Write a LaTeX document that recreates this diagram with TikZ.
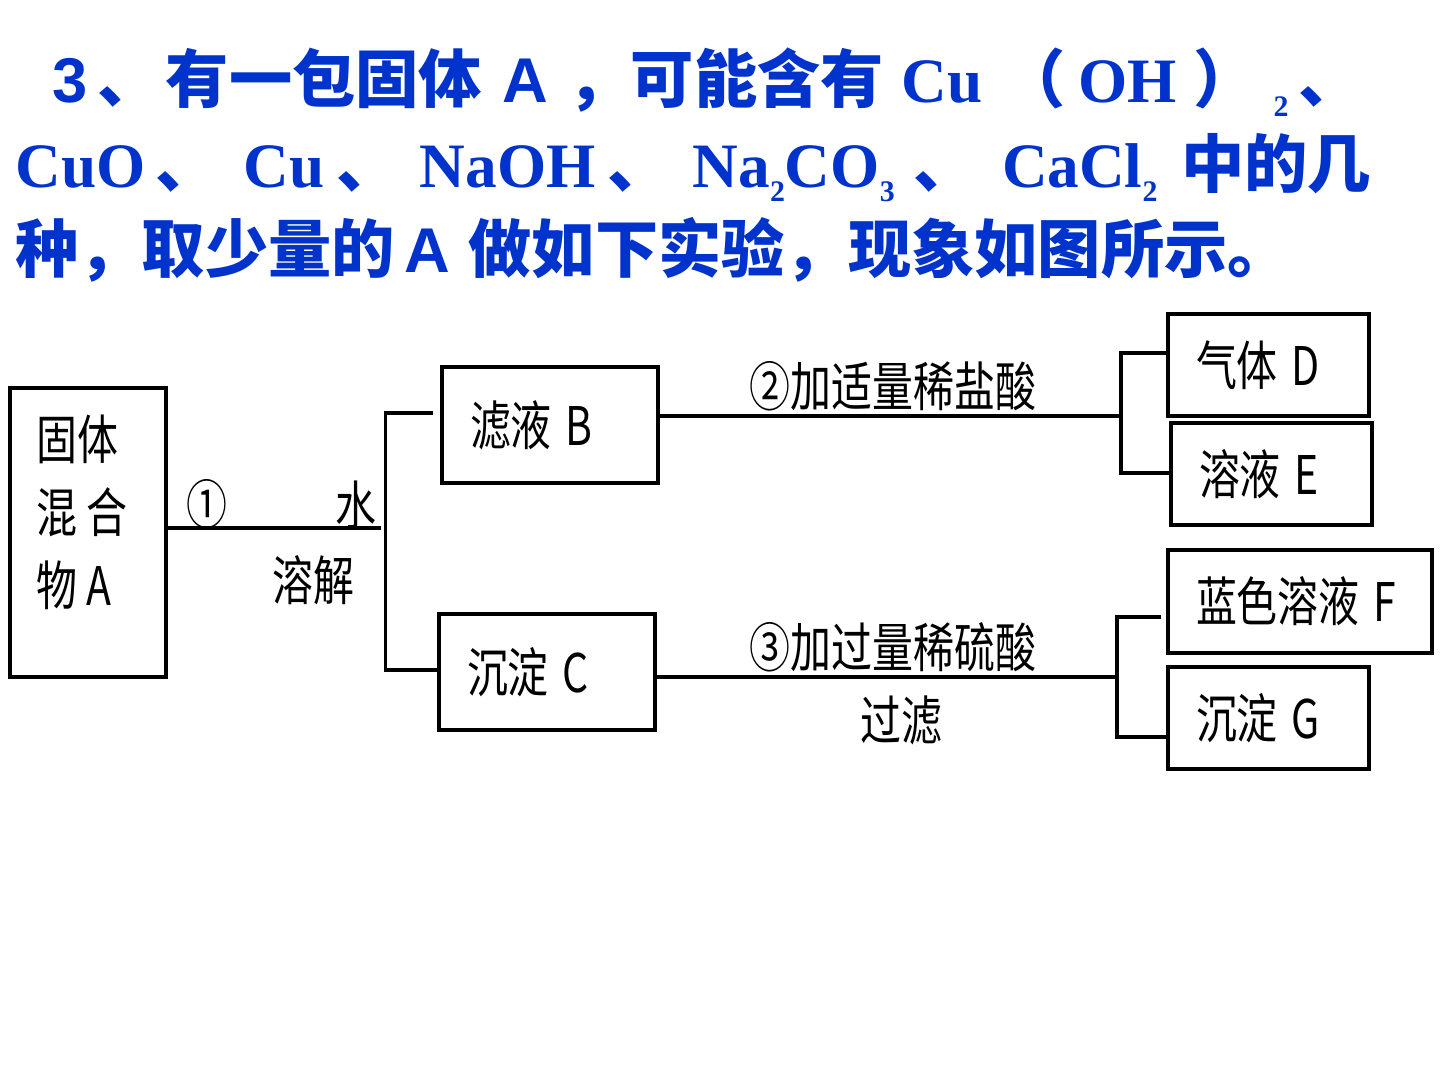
\documentclass[tikz,border=0pt]{standalone}
\usepackage{fontspec}
\setmainfont{Liberation Serif}
\newfontfamily\cjkfont{Noto Sans CJK SC}
\newfontfamily\arialfont{Liberation Sans}
\usetikzlibrary{positioning, calc}

\definecolor{titleblue}{RGB}{0,51,204}
\newlength\pxu \setlength\pxu{0.02cm}
\newcommand\zh[1]{{\cjkfont #1}}
\newcommand\ar[1]{{\arialfont #1}}
\newcommand\sub[1]{\raisebox{-14\pxu}{\fontsize{17pt}{17pt}\selectfont #1}}
\newcommand\tall[1]{\scalebox{1}[1.3]{#1}}
\newcommand\dfont{\cjkfont\fontsize{23.3pt}{41.5pt}\selectfont}

\begin{document}
\begin{tikzpicture}[x=0.02cm, y=-0.02cm,
    box/.style={draw, line width=1.9pt, inner xsep=0.56cm, inner ysep=0pt, align=left, font=\dfont},
    lbl/.style={inner sep=0pt, font=\dfont},
    conn/.style={line width=1.9pt},
    ttl/.style={inner sep=0pt, text=titleblue, font=\bfseries\fontsize{36pt}{40pt}\selectfont}]

    \path[fill=white, use as bounding box] (0,0) rectangle (1440,1080);

    % title
    \node (title1) [ttl, anchor=base west] at (52,102) {\ar{3}\hspace{10\pxu}\zh{、}\hspace{5\pxu}\zh{有一包固体}\hspace{20\pxu}\ar{A}\hspace{20\pxu}\zh{，可能含有}\hspace{18\pxu}Cu\hspace{20\pxu}\zh{（}\hspace{12\pxu}OH\hspace{17\pxu}\zh{）}\hspace{17\pxu}\sub{2}\hspace{10\pxu}\zh{、}};
    \node (title2) [ttl, anchor=base west] at (15,187) {CuO\hspace{10\pxu}\zh{、}\hspace{25\pxu}Cu\hspace{12\pxu}\zh{、}\hspace{20\pxu}NaOH\hspace{12\pxu}\zh{、}\hspace{22\pxu}Na\sub{2}CO\sub{3}\hspace{19\pxu}\zh{、}\hspace{25\pxu}CaCl\sub{2}\hspace{24\pxu}\zh{中的几}};
    \node (title3) [ttl, anchor=base west] at (15,272) {\zh{种，取少量的}\hspace{10\pxu}\ar{A}\hspace{18\pxu}\zh{做如下实验，现象如图所示。}};

    % boxes
    \node (boxA) [box, minimum width=3.12cm, minimum height=5.78cm] at (88,532.5) {};
    \node (txtA) [lbl, anchor=west, align=left] at ($(boxA.west)+(28,-20)$) {\tall{固体}\\\tall{混 合}\\\tall{物 A}};
    \node (boxB) [box, text width=3.2cm, minimum height=2.32cm] at (550,425) {\tall{滤液 B}};
    \node (boxC) [box, text width=3.2cm, minimum height=2.32cm] at (547,672) {\tall{沉淀 C}};
    \node (boxD) [box, text width=2.9cm, minimum height=2.04cm] at (1268.5,365) {\tall{气体 D}};
    \node (boxE) [box, text width=2.9cm, minimum height=2.04cm] at (1271.5,474) {\tall{溶液 E}};
    \node (boxF) [box, text width=4.16cm, minimum height=2.06cm] at (1300,601.5) {\tall{蓝色溶液 F}};
    \node (boxG) [box, text width=2.9cm, minimum height=2.04cm] at (1268.5,718) {\tall{沉淀 G}};

    % step labels
    \node (step1) [lbl] at (207,504) {\tall{①}};
    \node (water) [lbl] at (356,505) {\tall{水}};
    \node (dissolve) [lbl] at (313,580) {\tall{溶解}};
    \node (stepHCl) [lbl] at (893,386) {\tall{②加适量稀盐酸}};
    \node (stepH2SO4) [lbl] at (893,647) {\tall{③加过量稀硫酸}};
    \node (filter) [lbl] at (901,720) {\tall{过滤}};

    % connectors
    \coordinate (jA) at (381,528);
    \coordinate (jB) at (1121,416);
    \coordinate (jC) at (1117,677);

    \draw [conn] (boxA.east |- jA) -- (jA);
    \draw [conn] ($(boxB.west)+(-7,-12)$) -| ($(boxC.west)+(-52,-2)$) -- ($(boxC.west)+(0,-2)$);

    \draw [conn] (boxB.east |- jB) -- (jB);
    \draw [conn] ($(boxD.west)+(0,-12)$) -| (jB) |- ($(boxE.west)+(0,-1)$);

    \draw [conn] (boxC.east |- jC) -- (jC);
    \draw [conn] ($(boxF.west)+(-5,15.5)$) -| (jC) |- ($(boxG.west)+(0,19)$);

\end{tikzpicture}
\end{document}
